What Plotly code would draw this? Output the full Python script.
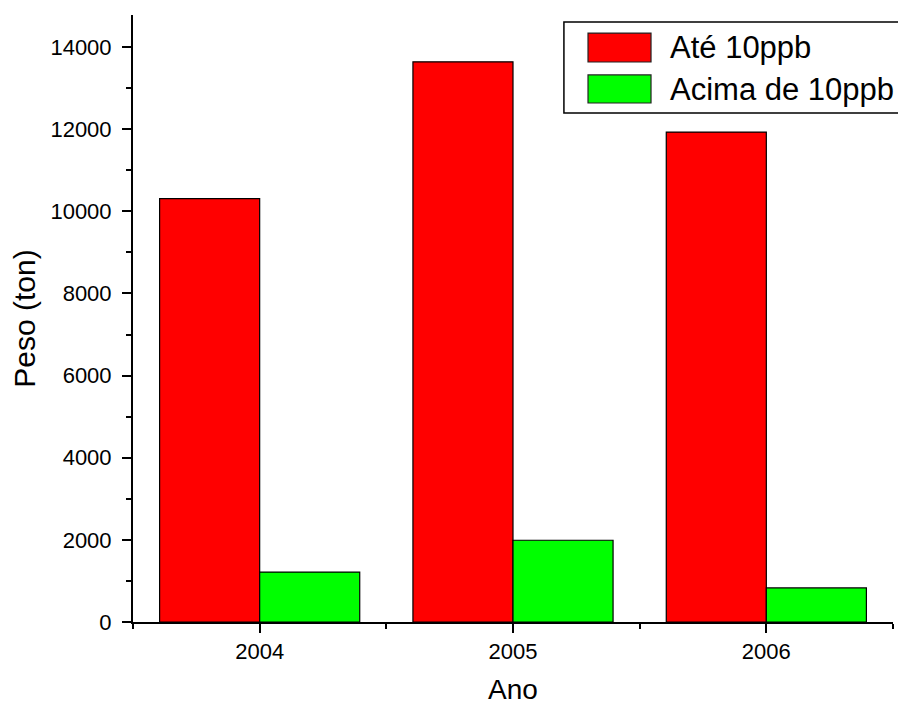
import plotly.graph_objects as go

years = ["2004", "2005", "2006"]
series_names = ["Até 10ppb", "Acima de 10ppb"]
ate_10ppb = [10310, 13640, 11930]
acima_10ppb = [1215, 1990, 830]
y_ticks = [0, 2000, 4000, 6000, 8000, 10000, 12000, 14000]
colors = ["#ff0000", "#00ff00"]

xpos = list(range(len(years)))
font = "Liberation Sans, Arial, sans-serif"

fig = go.Figure()
for name, vals, col in zip(series_names, [ate_10ppb, acima_10ppb], colors):
    fig.add_trace(go.Bar(x=xpos, y=vals, name=name,
                         marker=dict(color=col, line=dict(color="#000000", width=1.2))))

# Manual legend (large swatches like the original)
fig.add_shape(type="rect", xref="paper", yref="paper",
              x0=0.567, x1=1.016, y0=0.8386, y1=0.9885,
              line=dict(color="black", width=1.5), fillcolor="white", layer="above")
sw_y = [(0.9226, 0.9703), (0.855, 0.9012)]
txt_y = [0.947, 0.878]
for name, col, (y0, y1), ty in zip(series_names, colors, sw_y, txt_y):
    fig.add_shape(type="rect", xref="paper", yref="paper",
                  x0=0.5987, x1=0.6816, y0=y0, y1=y1,
                  line=dict(color="#222222", width=1.2), fillcolor=col, layer="above")
    fig.add_annotation(xref="paper", yref="paper", x=0.704, y=ty, text=name,
                       showarrow=False, xanchor="left", yanchor="middle",
                       font=dict(size=31, family=font, color="black"))

fig.update_layout(
    width=906, height=704,
    margin=dict(l=125, r=21, t=7, b=90),
    paper_bgcolor="white", plot_bgcolor="white",
    barmode="group", bargap=0.21, bargroupgap=0,
    font=dict(family=font, color="black", size=22),
    showlegend=False,
    xaxis=dict(range=[-0.5, 2.5], tickvals=xpos, ticktext=years,
               showline=True, linecolor="black", linewidth=2,
               ticks="outside", ticklen=9, tickwidth=2, tickcolor="black",
               showgrid=False, zeroline=False,
               tickfont=dict(size=22),
               minor=dict(tickvals=[-0.5, 0.5, 1.5, 2.5], ticks="outside",
                          ticklen=5, tickwidth=2, tickcolor="black", showgrid=False),
               title=dict(text="Ano", font=dict(size=28), standoff=16)),
    yaxis=dict(range=[0, 14780], tickvals=y_ticks, ticktext=[str(v) for v in y_ticks],
               showline=True, linecolor="black", linewidth=2,
               ticks="outside", ticklen=9, tickwidth=2, tickcolor="black",
               showgrid=False, zeroline=False,
               tickfont=dict(size=22), ticklabelstandoff=6,
               minor=dict(dtick=1000, tick0=0, ticks="outside",
                          ticklen=5, tickwidth=2, tickcolor="black", showgrid=False),
               title=dict(text="Peso (ton)", font=dict(size=30), standoff=10)),
)

fig.write_html("out.html")
